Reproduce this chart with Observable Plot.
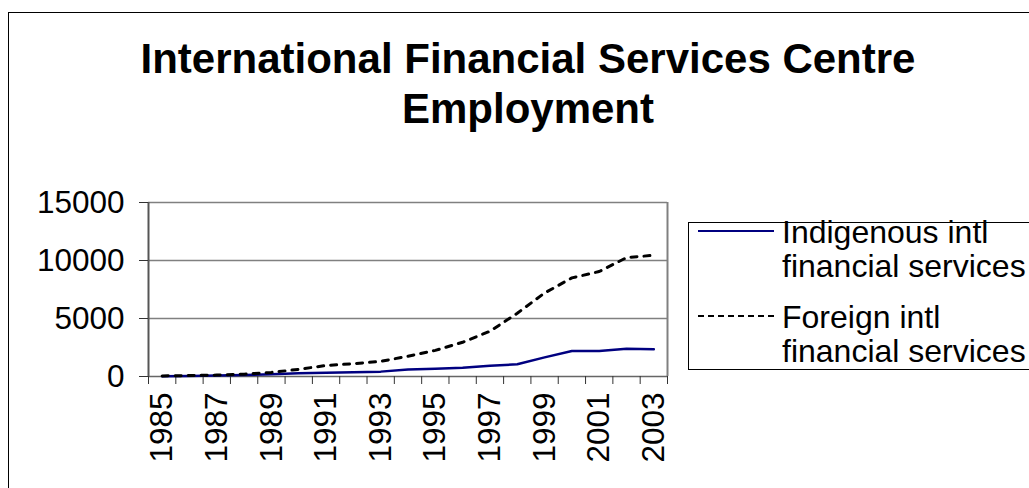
<!DOCTYPE html>
<html>
<head>
<meta charset="utf-8">
<script src="https://cdn.jsdelivr.net/npm/d3@7"></script>
<script src="https://cdn.jsdelivr.net/npm/@observablehq/plot@0.6"></script>
<style>
  html, body { margin: 0; padding: 0; background: #fff; overflow: hidden; }
  #wrap { position: relative; width: 1029px; height: 488px; overflow: hidden; font-family: "Liberation Sans", Arial, sans-serif; }
  #border { position: absolute; left: 8px; top: 12px; width: 1100px; height: 600px; border: 1.5px solid #000; box-sizing: border-box; }
  #title { position: absolute; left: 0; top: 34px; width: 1056px; text-align: center; font-weight: bold; font-size: 42px; line-height: 50px; color: #000; }
  #chart { position: absolute; left: 0; top: 0; }
  #legend { position: absolute; left: 688px; top: 222px; width: 400px; height: 148px; border: 1px solid #000; box-sizing: border-box; }
  .entry { position: absolute; left: 0; }
  .entry svg { position: absolute; left: 9px; }
  .entry .lbl { position: absolute; left: 93px; font-size: 32px; line-height: 34px; white-space: nowrap; color: #000; }
</style>
</head>
<body>
<div id="wrap">
  <div id="border"></div>
  <div id="chart"></div>
  <div id="title">International Financial Services Centre<br>Employment</div>
  <div id="legend"></div>
</div>
<script>
// ---- data ----
const years = [1985, 1986, 1987, 1988, 1989, 1990, 1991, 1992, 1993, 1994, 1995, 1996, 1997, 1998, 1999, 2000, 2001, 2002, 2003];
const indigenous = [20, 50, 80, 130, 200, 280, 330, 370, 420, 600, 660, 750, 930, 1050, 1650, 2200, 2200, 2400, 2350];
const foreign = [50, 80, 120, 200, 350, 620, 950, 1100, 1300, 1750, 2250, 2950, 3900, 5450, 7200, 8500, 9050, 10250, 10450];
const seriesNames = ["Indigenous intl financial services", "Foreign intl financial services"];
const legendLines = [["Indigenous intl", "financial services"], ["Foreign intl", "financial services"]];
const yTicks = [0, 5000, 10000, 15000];
const xTickLabels = [1985, 1987, 1989, 1991, 1993, 1995, 1997, 1999, 2001, 2003];

const rows = [];
years.forEach((yr, i) => {
  rows.push({year: yr, value: indigenous[i], series: seriesNames[0]});
  rows.push({year: yr, value: foreign[i], series: seriesNames[1]});
});
const boundaries = d3.range(years.length + 1).map(i => years[0] - 0.5 + i);
const xMin = boundaries[0], xMax = boundaries[boundaries.length - 1];

const font = '"Liberation Sans", Arial, sans-serif';

const chart = Plot.plot({
  width: 1029,
  height: 488,
  marginLeft: 148,
  marginRight: 362,
  marginTop: 202,
  marginBottom: 112,
  style: {fontFamily: font, background: "transparent", color: "#000"},
  x: {type: "linear", domain: [xMin, xMax]},
  y: {domain: [yTicks[0], yTicks[yTicks.length - 1]]},
  marks: [
    Plot.gridY(yTicks.slice(1), {stroke: "#808080", strokeOpacity: 1, strokeWidth: 1.5}),
    Plot.ruleX([xMax], {stroke: "#808080", strokeWidth: 2}),
    Plot.ruleX([xMin], {stroke: "#555", strokeWidth: 2}),
    Plot.ruleY([0], {stroke: "#666", strokeWidth: 1.5}),
    Plot.axisY({ticks: yTicks, tickSize: 9, tickPadding: 15, fontSize: 31.5, tickFormat: d => String(d), label: null, stroke: "#333"}),
    Plot.axisX({ticks: boundaries, tickSize: 8, tickFormat: () => "", label: null, stroke: "#333"}),
    Plot.axisX({ticks: xTickLabels, tickSize: 0, tickPadding: 16, tickRotate: -90, fontSize: 31.5, tickFormat: d => String(d), label: null}),
    Plot.line(rows.filter(d => d.series === seriesNames[0]), {x: "year", y: "value", stroke: "#000080", strokeWidth: 2.5}),
    Plot.line(rows.filter(d => d.series === seriesNames[1]), {x: "year", y: "value", stroke: "#000", strokeWidth: 3, strokeDasharray: "6 7"})
  ]
});
document.getElementById("chart").appendChild(chart);

// ---- legend ----
const legend = document.getElementById("legend");
const styles = [{stroke: "#000080", width: 2, dash: null}, {stroke: "#000", width: 2, dash: "6 4"}];
const tops = [-8, 77];
legendLines.forEach((lines, i) => {
  const e = document.createElement("div");
  e.className = "entry";
  e.style.top = tops[i] + "px";
  const dash = styles[i].dash ? `stroke-dasharray="${styles[i].dash}"` : "";
  e.innerHTML = `<svg width="78" height="40" style="top:0px"><line x1="0" x2="76" y1="16" y2="16" stroke="${styles[i].stroke}" stroke-width="${styles[i].width}" ${dash}/></svg>` +
    `<div class="lbl">${lines.join("<br>")}</div>`;
  legend.appendChild(e);
});
</script>
</body>
</html>
